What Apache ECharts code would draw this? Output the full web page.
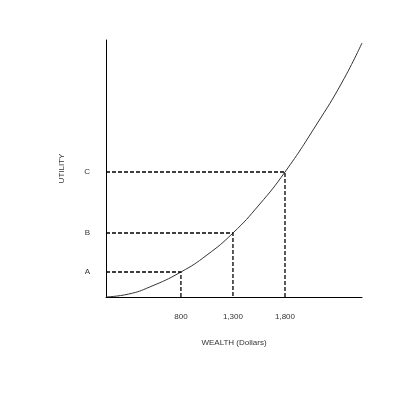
<!DOCTYPE html>
<html><head><meta charset="utf-8">
<script src="https://cdn.jsdelivr.net/npm/echarts@6/dist/echarts.min.js"></script>
<style>html,body{margin:0;background:#fff}#c{width:400px;height:400px}</style>
</head><body><div id="c"></div>
<script>
const curveX=[80,300,500,800,1050,1300,1550,1800,2100,2350,2540];
const curveY=[0,3,10,25,42,64,92,125,172,215,254];
const markWealth=[800,1300,1800];
const markUtility=[25,64,125];
const utilityLabels=['A','B','C'];
const xMin=80,xMax=2540,yMax=257;
const series=[{type:'line',data:curveX.map((x,i)=>[x,curveY[i]]),showSymbol:false,smooth:true,lineStyle:{color:'#333',width:1},z:3}];
markWealth.forEach((w,i)=>{series.push({type:'line',data:[[xMin,markUtility[i]],[w,markUtility[i]],[w,0]],showSymbol:false,lineStyle:{color:'#000',width:1.3,type:[4,2]}});});
const chart=echarts.init(document.getElementById('c'));
chart.setOption({animation:false,
grid:{left:106,top:40,width:256,height:257},
xAxis:{type:'value',min:xMin,max:xMax,splitLine:{show:false},axisLine:{lineStyle:{color:'#000'}},axisTick:{show:false},
 axisLabel:{customValues:markWealth,formatter:v=>v.toLocaleString('en-US'),fontSize:8,color:'#333',margin:16,fontFamily:'Arial'},
 name:'WEALTH (Dollars)',nameLocation:'middle',nameGap:42,nameTextStyle:{fontSize:8,color:'#333',fontFamily:'Arial'}},
yAxis:{type:'value',min:0,max:yMax,splitLine:{show:false},axisLine:{show:true,lineStyle:{color:'#000'}},axisTick:{show:false},
 axisLabel:{customValues:markUtility,formatter:v=>utilityLabels[markUtility.indexOf(v)],fontSize:8,color:'#333',margin:16,fontFamily:'Arial'},
 name:'UTILITY',nameLocation:'middle',nameGap:40,nameTextStyle:{fontSize:8,color:'#333',fontFamily:'Arial'}},
series});
</script></body></html>
